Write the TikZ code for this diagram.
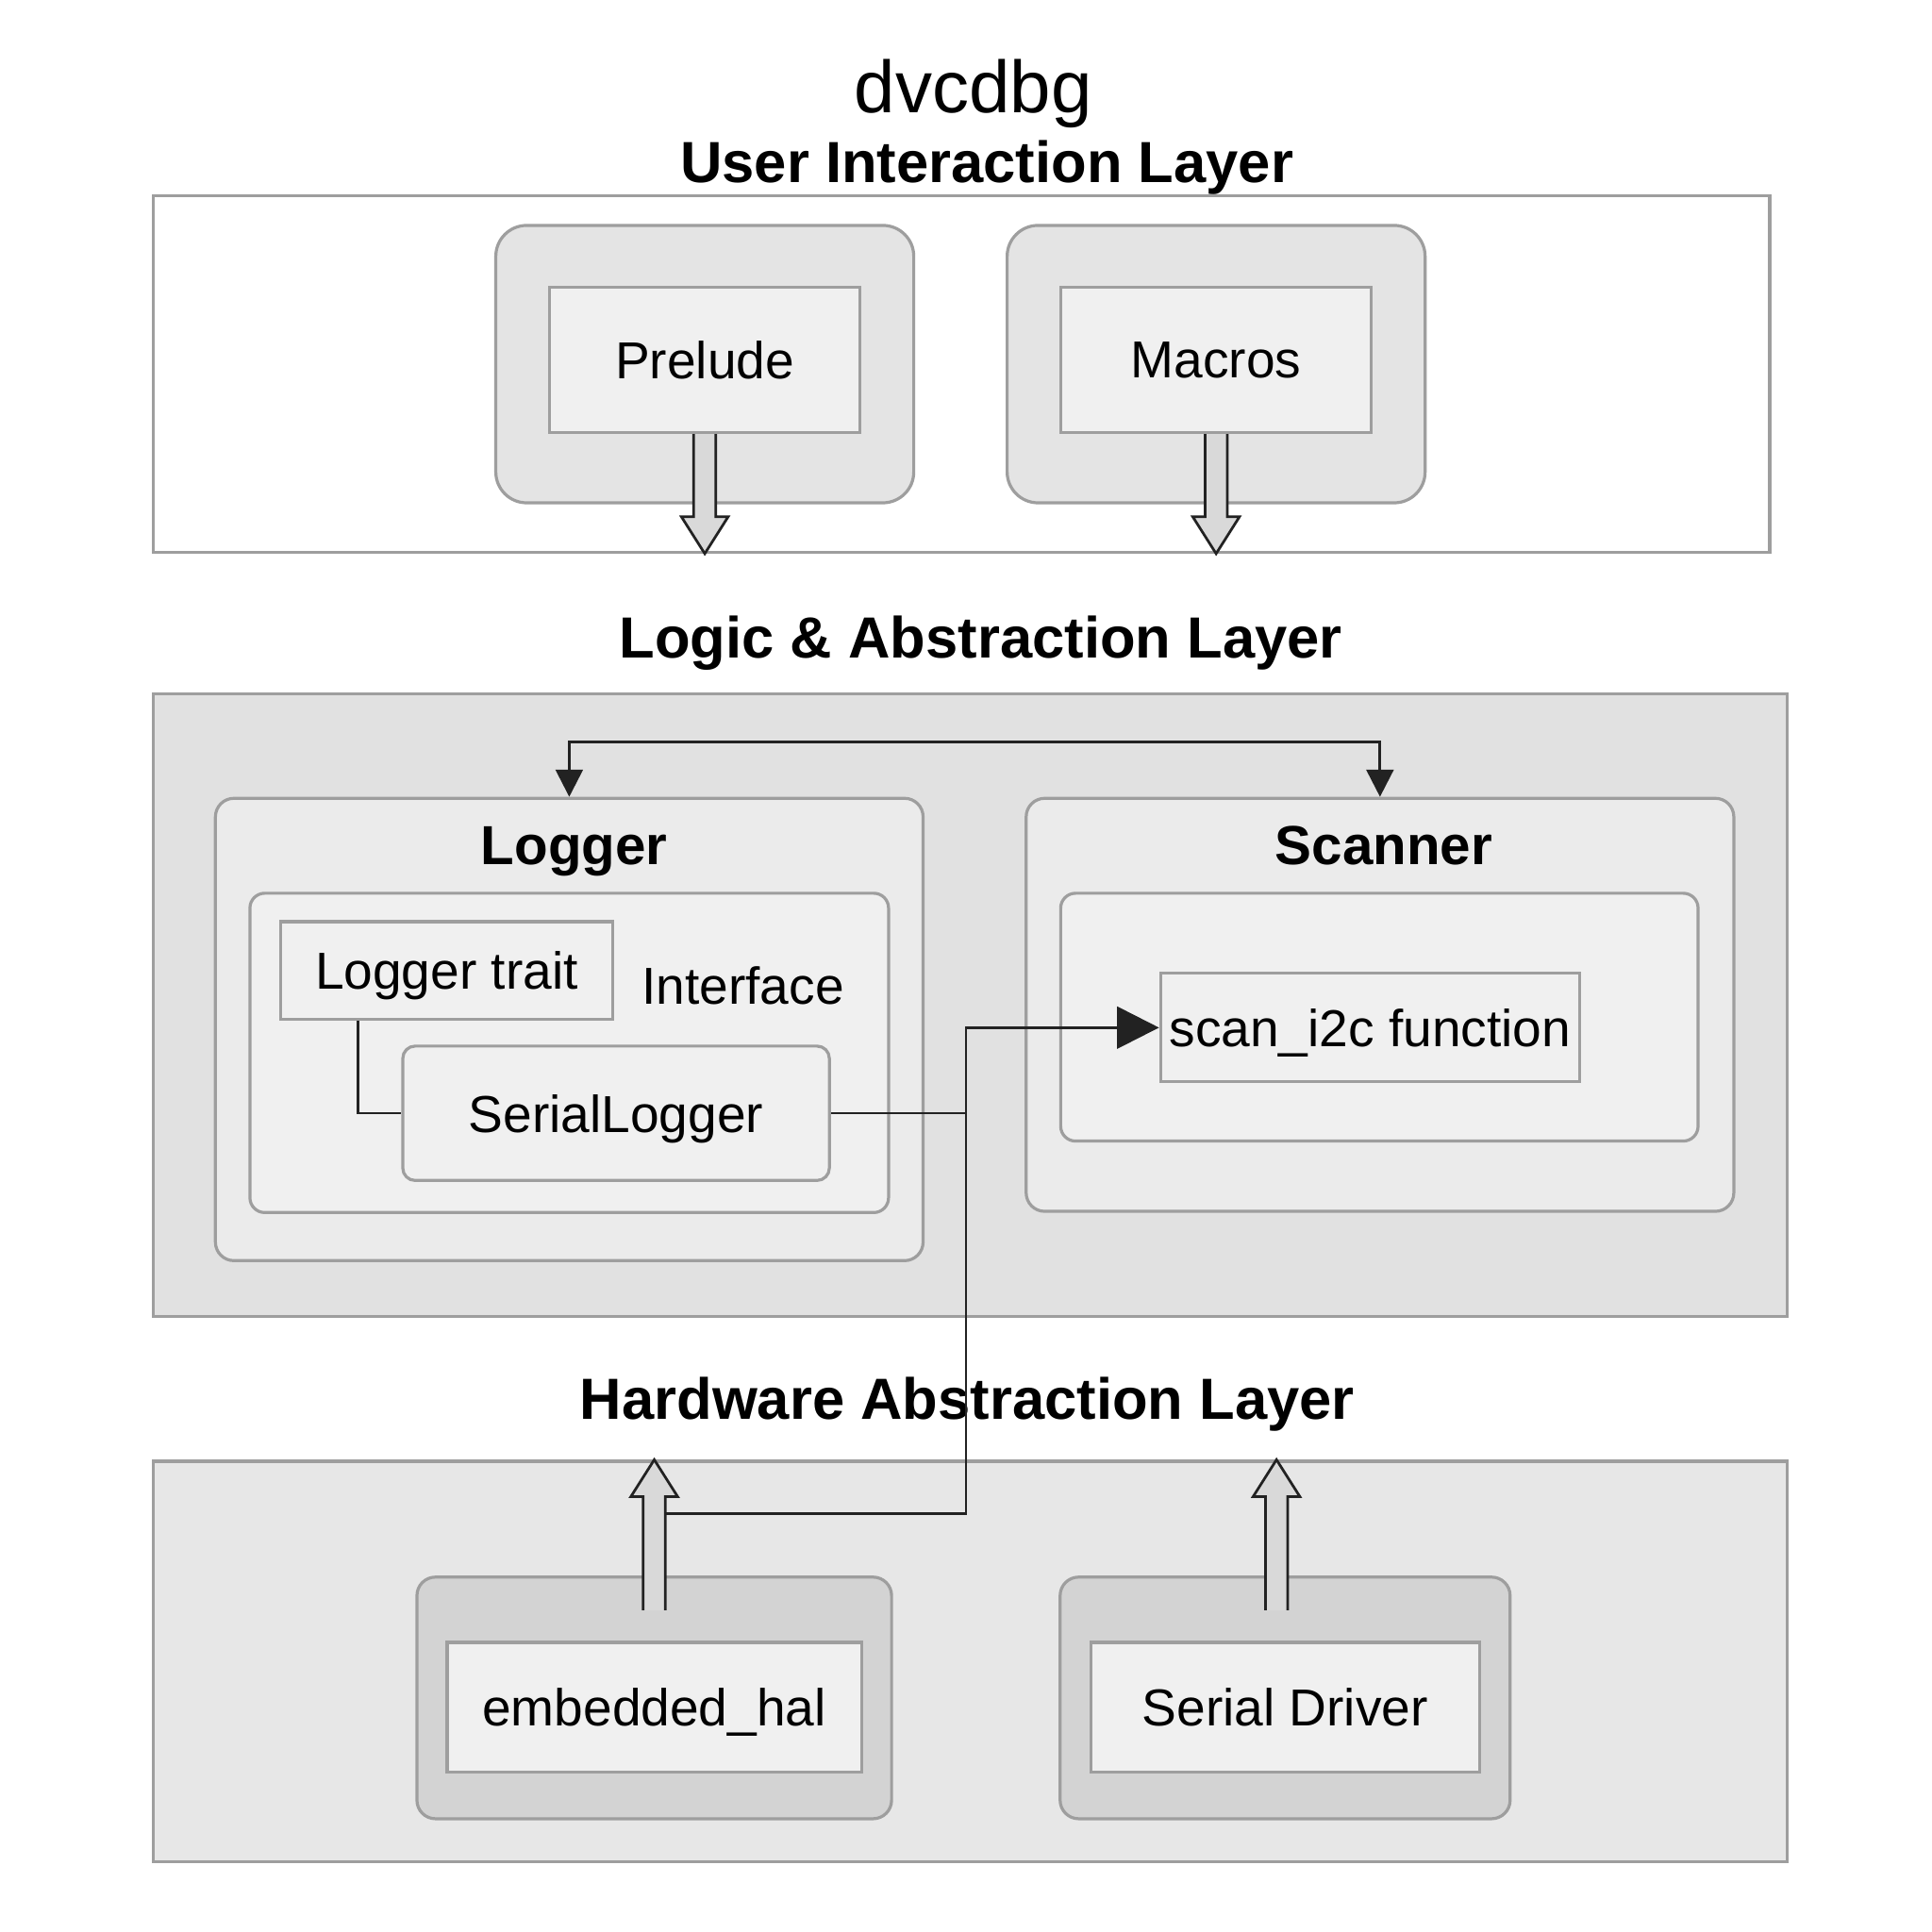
\documentclass[tikz,border=0pt]{standalone}
\usepackage{fontspec}
\setmainfont{Liberation Sans}
\usetikzlibrary{positioning}
\usetikzlibrary{arrows.meta,calc}
\definecolor{edgegray}{HTML}{9E9E9E}
\definecolor{layerfill}{HTML}{E1E1E1}
\definecolor{halfill}{HTML}{E7E7E7}
\definecolor{groupfill}{HTML}{E4E4E4}
\definecolor{modfill}{HTML}{EBEBEB}
\definecolor{boxfill}{HTML}{F0F0F0}
\definecolor{darkfill}{HTML}{D3D3D3}
\definecolor{arrowfill}{HTML}{D9D9D9}
\definecolor{ink}{HTML}{222222}
\tikzstyle{layer}=[draw=edgegray, line width=0.7pt, inner sep=0pt]
\tikzstyle{group}=[draw=edgegray, line width=0.7pt, rounded corners=0.25cm, inner sep=0pt]
\tikzstyle{box}=[draw=edgegray, line width=0.7pt, fill=boxfill, inner sep=0pt, text depth=0pt, font=\fontsize{12}{14}\selectfont]
\tikzstyle{label} = [text depth=0pt, font=\fontsize{12}{14}\selectfont]
\tikzstyle{heading}=[text depth=0pt, font=\fontsize{13.4}{16}\selectfont\bfseries]
\tikzstyle{modtitle}=[text depth=0pt, font=\fontsize{12.7}{15}\selectfont\bfseries]
\tikzstyle{link} = [draw=ink, line width=0.6pt]
\tikzstyle{fatarrow} = [draw=ink, line width=0.6pt, fill=arrowfill, line join=miter]
% hollow arrow: #1 foot, #2 tip, #3 = 1 down, -1 up
\newcommand{\hollowarrow}[3]{%
  \draw[fatarrow] ($(#1)+(-9,0)$) -- ($(#2)+(-9,{-30*(#3)})$) -- ($(#2)+(-19,{-30*(#3)})$) -- (#2)
     -- ($(#2)+(19,{-30*(#3)})$) -- ($(#2)+(9,{-30*(#3)})$) -- ($(#1)+(9,0)$);
}
\begin{document}
\begin{tikzpicture}[x=0.01cm, y=-0.01cm]
  \useasboundingbox (0,0) rectangle (1568,1568);

  \node[text depth=0pt, font=\fontsize{17}{20}\selectfont] (title) at (790,70) {dvcdbg};

  % user interaction layer
  \node[heading] (uititle) at (801,131) {User Interaction Layer};
  \node[layer, fill=white, minimum width=13.11cm, minimum height=2.89cm] (ui) at (780.5,303.5) {};
  \foreach \x/\name/\label in {572/pre/Prelude, 987/mac/Macros} {
     \node[group, fill=groupfill, minimum width=3.39cm, minimum height=2.25cm] (\name g) at (\x,295.5) {};
     \node[box, minimum width=2.52cm, minimum height=1.18cm] (\name) at (\x,292) {\label};
  }
  \coordinate (pretip) at (pre.south |- ui.south);
  \coordinate (mactip) at (mac.south |- ui.south);
  \hollowarrow{pre.south}{pretip}{1}
  \hollowarrow{mac.south}{mactip}{1}

  % logic & abstraction layer
  \node[heading] (latitle) at (796,517) {Logic \& Abstraction Layer};
  \node[layer, fill=layerfill, minimum width=13.25cm, minimum height=5.05cm] (la) at (787.5,815.5) {};

  \node[group, rounded corners=0.15cm, fill=modfill, minimum width=5.74cm, minimum height=3.75cm] (logger) at (462,835.5) {};
  \node[modtitle] (loggertitle) at (466,686) {Logger};
  \node[group, rounded corners=0.12cm, fill=boxfill, minimum width=5.18cm, minimum height=2.59cm] (iface) at (462,854.5) {};
  \node[box, minimum width=2.69cm, minimum height=0.79cm] (trait) at (362.5,787.5) {Logger trait};
  \node[label] (ifacelabel) at (603,800) {Interface};
  \node[box, rounded corners=0.1cm, minimum width=3.46cm, minimum height=1.09cm] (serial) at (500,903.5) {SerialLogger};

  \node[group, rounded corners=0.15cm, fill=modfill, minimum width=5.74cm, minimum height=3.35cm] (scanner) at (1120,815.5) {};
  \node[modtitle] (scannertitle) at (1123,686) {Scanner};
  \node[group, rounded corners=0.12cm, fill=boxfill, minimum width=5.17cm, minimum height=2.01cm] (scanbody) at (1119.5,825.5) {};
  \node[box, minimum width=3.4cm, minimum height=0.88cm] (scan) at (1112,834) {scan\_i2c function};

  \coordinate (bus) at (790,602);
  \draw[link, {Triangle[length=0.22cm, width=0.22cm]}-{Triangle[length=0.22cm, width=0.22cm]}] (logger.north) |- (bus) -| (scanner.north);
  \draw[link] ($(trait.south west)+(64,0)$) |- (serial.west);

  % hardware abstraction layer
  \node[heading] (hwtitle) at (785,1135) {Hardware Abstraction Layer};
  \node[layer, fill=halfill, minimum width=13.25cm, minimum height=3.25cm] (hw) at (787.5,1348.5) {};
  \foreach \x/\wo/\wi/\name/\label in {531/3.85/3.36/hal/embedded\_hal, 1043/3.65/3.15/drv/Serial Driver} {
     \node[group, rounded corners=0.15cm, fill=darkfill, minimum width=\wo cm, minimum height=1.96cm] (\name g) at (\x,1378) {};
     \node[box, fill=boxfill, minimum width=\wi cm, minimum height=1.05cm] (\name) at (\x,1385.5) {\label};
  }
  \coordinate (halfoot) at ($(halg.north)+(0,28)$);
  \coordinate (haltip) at (halfoot |- hw.north);
  \coordinate (drvfoot) at ($(drvg.north)+(-7,28)$);
  \coordinate (drvtip) at (drvfoot |- hw.north);
  \hollowarrow{halfoot}{haltip}{-1}
  \hollowarrow{drvfoot}{drvtip}{-1}

  % serial logger and hal into scan_i2c
  \coordinate (tap) at ($(halg.north)+(9,-50)$);
  \coordinate (jn) at (serial.east -| 784,0);
  \draw[link, -{Triangle[length=0.34cm, width=0.34cm]}] (tap) -| (jn) |- (scan.west);
  \draw[link] (serial.east) -- (jn);
\end{tikzpicture}
\end{document}
